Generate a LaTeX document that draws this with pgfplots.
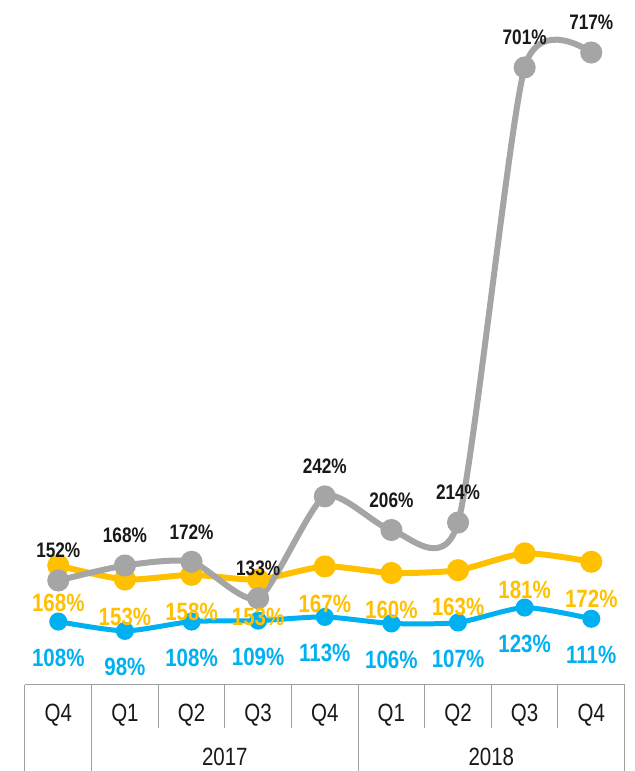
\documentclass[border=0pt]{standalone}
\usepackage{pgfplots}
\pgfplotsset{compat=1.18}
\usepackage{pgfplotstable}
\usepackage{fontspec}
\setmainfont{Liberation Sans}[FakeStretch=0.82]
\definecolor{cblue}{RGB}{0,176,240}
\definecolor{cyellow}{RGB}{255,192,0}
\definecolor{cgray}{RGB}{165,165,165}
\definecolor{cline}{RGB}{160,160,160}
\definecolor{ctext}{RGB}{25,25,25}
\pgfplotstableread{
x blue yellow gray
0 108 168 152
1 98 153 168
2 108 158 172
3 109 153 133
4 113 167 242
5 106 160 206
6 107 163 214
7 123 181 701
8 111 172 717
}\data
\begin{document}
\begin{tikzpicture}
\begin{axis}[
  scale only axis, width=600pt, height=685pt,
  xmin=-0.5, xmax=8.5, ymin=40.6, ymax=773.2,
  hide axis, clip=false,
  /pgf/number format/assume math mode=true,
]
% table lines
\draw[cline, line width=1pt] (axis cs:-0.5,40.6) -- (axis cs:8.5,40.6);
\pgfplotsinvokeforeach{-0.5,0.5,4.5,8.5}{
  \draw[cline, line width=1pt] (axis cs:#1,40.6) -- ([yshift=-86pt]axis cs:#1,40.6);
}
\pgfplotsinvokeforeach{1.5,2.5,3.5,5.5,6.5,7.5}{
  \draw[cline, line width=1pt] (axis cs:#1,40.6) -- ([yshift=-43pt]axis cs:#1,40.6);
}
\node[font=\fontsize{25}{25}\selectfont, text=ctext] at ([yshift=-31pt]axis cs:0,40.6) {Q4};
\node[font=\fontsize{25}{25}\selectfont, text=ctext] at ([yshift=-31pt]axis cs:1,40.6) {Q1};
\node[font=\fontsize{25}{25}\selectfont, text=ctext] at ([yshift=-31pt]axis cs:2,40.6) {Q2};
\node[font=\fontsize{25}{25}\selectfont, text=ctext] at ([yshift=-31pt]axis cs:3,40.6) {Q3};
\node[font=\fontsize{25}{25}\selectfont, text=ctext] at ([yshift=-31pt]axis cs:4,40.6) {Q4};
\node[font=\fontsize{25}{25}\selectfont, text=ctext] at ([yshift=-31pt]axis cs:5,40.6) {Q1};
\node[font=\fontsize{25}{25}\selectfont, text=ctext] at ([yshift=-31pt]axis cs:6,40.6) {Q2};
\node[font=\fontsize{25}{25}\selectfont, text=ctext] at ([yshift=-31pt]axis cs:7,40.6) {Q3};
\node[font=\fontsize{25}{25}\selectfont, text=ctext] at ([yshift=-31pt]axis cs:8,40.6) {Q4};
\node[font=\fontsize{25}{25}\selectfont, text=ctext] at ([yshift=-72pt]axis cs:2.5,40.6) {2017};
\node[font=\fontsize{25}{25}\selectfont, text=ctext] at ([yshift=-72pt]axis cs:6.5,40.6) {2018};
% series
\addplot[cblue, line width=5pt, smooth, tension=0.4, mark=*, mark size=6.5pt, mark options={fill=cblue, draw=none}] table[x=x,y=blue]{\data};
\addplot[cyellow, line width=6pt, smooth, tension=0.4, mark=*, mark size=8pt, mark options={fill=cyellow, draw=none}] table[x=x,y=yellow]{\data};
\addplot[cgray, line width=6pt, smooth, tension=0.4, mark=*, mark size=8pt, mark options={fill=cgray, draw=none}] table[x=x,y=gray]{\data};
% labels
\addplot[draw=none, mark=none, nodes near coords={\pgfmathprintnumber{\pgfplotspointmeta}\%},
  every node near coord/.append style={anchor=center, yshift=-36pt, text=cblue, font=\bfseries\fontsize{25}{25}\selectfont}] table[x=x,y=blue]{\data};
\addplot[draw=none, mark=none, nodes near coords={\pgfmathprintnumber{\pgfplotspointmeta}\%},
  every node near coord/.append style={anchor=center, yshift=-37pt, text=cyellow, font=\bfseries\fontsize{25}{25}\selectfont}] table[x=x,y=yellow]{\data};
\addplot[draw=none, mark=none, nodes near coords={\pgfmathprintnumber{\pgfplotspointmeta}\%},
  every node near coord/.append style={anchor=center, yshift=30pt, text=ctext, font=\bfseries\fontsize{21}{21}\selectfont}] table[x=x,y=gray]{\data};
\path ([xshift=-25pt,yshift=-86pt]rel axis cs:0,0) rectangle ([xshift=10pt]rel axis cs:1,1);
\end{axis}
\end{tikzpicture}
\end{document}
